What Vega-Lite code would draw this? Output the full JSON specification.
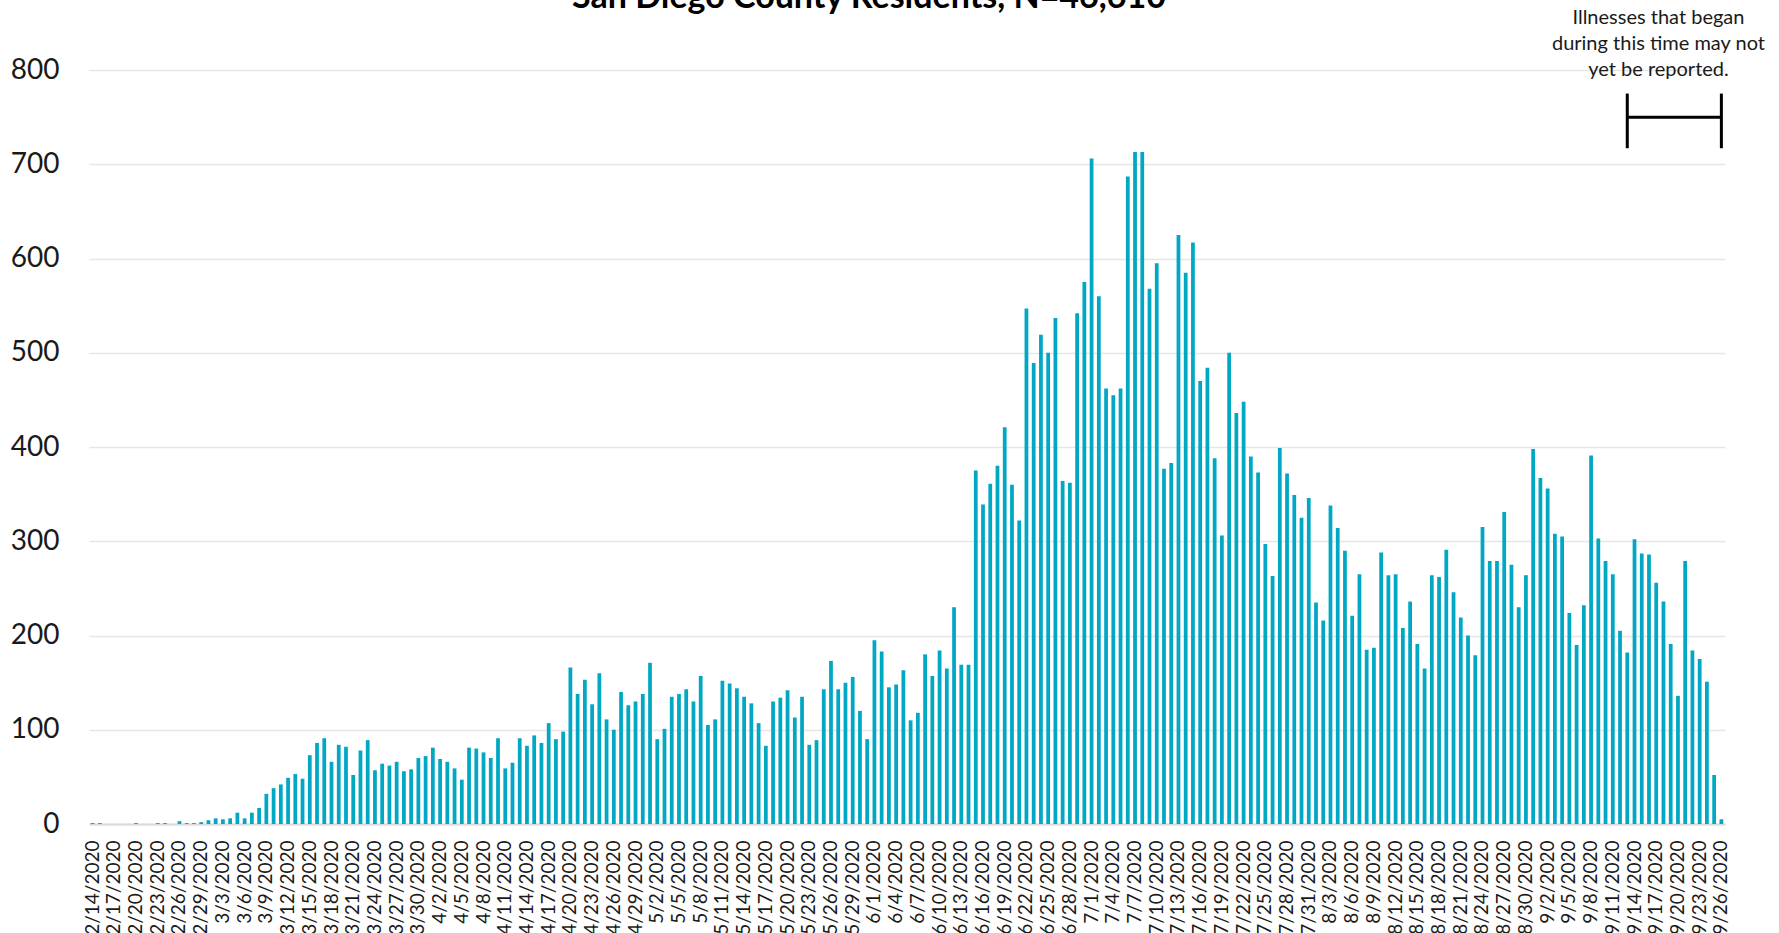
{
  "$schema": "https://vega.github.io/schema/vega-lite/v6.json",
  "width": 1636,
  "height": 754,
  "autosize": {"type": "none"},
  "padding": {"left": 89, "top": 70, "right": 54, "bottom": 109},
  "background": "white",
  "title": {
    "text": "San Diego County Residents, N=46,610",
    "font": "Lato",
    "fontSize": 34,
    "fontWeight": "bold",
    "color": "#000000",
    "anchor": "middle",
    "frame": "group",
    "dx": -38,
    "offset": -34,
    "baseline": "alphabetic"
  },
  "config": {"view": {"stroke": null}, "font": "Lato"},
  "datasets": {
    "cases": [
      {"d": "2/14/2020", "v": 1}, {"d": "2/15/2020", "v": 1}, {"d": "2/16/2020", "v": 0}, {"d": "2/17/2020", "v": 0},
      {"d": "2/18/2020", "v": 0}, {"d": "2/19/2020", "v": 0}, {"d": "2/20/2020", "v": 1}, {"d": "2/21/2020", "v": 0},
      {"d": "2/22/2020", "v": 0}, {"d": "2/23/2020", "v": 1}, {"d": "2/24/2020", "v": 1}, {"d": "2/25/2020", "v": 0},
      {"d": "2/26/2020", "v": 3}, {"d": "2/27/2020", "v": 1}, {"d": "2/28/2020", "v": 1}, {"d": "2/29/2020", "v": 2},
      {"d": "3/1/2020", "v": 4}, {"d": "3/2/2020", "v": 6}, {"d": "3/3/2020", "v": 5}, {"d": "3/4/2020", "v": 6},
      {"d": "3/5/2020", "v": 12}, {"d": "3/6/2020", "v": 6}, {"d": "3/7/2020", "v": 12}, {"d": "3/8/2020", "v": 17},
      {"d": "3/9/2020", "v": 32}, {"d": "3/10/2020", "v": 38}, {"d": "3/11/2020", "v": 42}, {"d": "3/12/2020", "v": 49},
      {"d": "3/13/2020", "v": 53}, {"d": "3/14/2020", "v": 48}, {"d": "3/15/2020", "v": 73}, {"d": "3/16/2020", "v": 86},
      {"d": "3/17/2020", "v": 91}, {"d": "3/18/2020", "v": 66}, {"d": "3/19/2020", "v": 84}, {"d": "3/20/2020", "v": 82},
      {"d": "3/21/2020", "v": 52}, {"d": "3/22/2020", "v": 78}, {"d": "3/23/2020", "v": 89}, {"d": "3/24/2020", "v": 57},
      {"d": "3/25/2020", "v": 64}, {"d": "3/26/2020", "v": 62}, {"d": "3/27/2020", "v": 66}, {"d": "3/28/2020", "v": 56},
      {"d": "3/29/2020", "v": 58}, {"d": "3/30/2020", "v": 70}, {"d": "3/31/2020", "v": 72},
      {"d": "4/1/2020", "v": 81}, {"d": "4/2/2020", "v": 69}, {"d": "4/3/2020", "v": 66}, {"d": "4/4/2020", "v": 59},
      {"d": "4/5/2020", "v": 47}, {"d": "4/6/2020", "v": 81}, {"d": "4/7/2020", "v": 80}, {"d": "4/8/2020", "v": 76},
      {"d": "4/9/2020", "v": 70}, {"d": "4/10/2020", "v": 91}, {"d": "4/11/2020", "v": 59}, {"d": "4/12/2020", "v": 65},
      {"d": "4/13/2020", "v": 91}, {"d": "4/14/2020", "v": 83}, {"d": "4/15/2020", "v": 94}, {"d": "4/16/2020", "v": 86},
      {"d": "4/17/2020", "v": 107}, {"d": "4/18/2020", "v": 90}, {"d": "4/19/2020", "v": 98}, {"d": "4/20/2020", "v": 166},
      {"d": "4/21/2020", "v": 138}, {"d": "4/22/2020", "v": 153}, {"d": "4/23/2020", "v": 127}, {"d": "4/24/2020", "v": 160},
      {"d": "4/25/2020", "v": 111}, {"d": "4/26/2020", "v": 100}, {"d": "4/27/2020", "v": 140}, {"d": "4/28/2020", "v": 126},
      {"d": "4/29/2020", "v": 130}, {"d": "4/30/2020", "v": 138},
      {"d": "5/1/2020", "v": 171}, {"d": "5/2/2020", "v": 90}, {"d": "5/3/2020", "v": 101}, {"d": "5/4/2020", "v": 135},
      {"d": "5/5/2020", "v": 138}, {"d": "5/6/2020", "v": 143}, {"d": "5/7/2020", "v": 130}, {"d": "5/8/2020", "v": 157},
      {"d": "5/9/2020", "v": 105}, {"d": "5/10/2020", "v": 111}, {"d": "5/11/2020", "v": 152}, {"d": "5/12/2020", "v": 149},
      {"d": "5/13/2020", "v": 144}, {"d": "5/14/2020", "v": 135}, {"d": "5/15/2020", "v": 128}, {"d": "5/16/2020", "v": 107},
      {"d": "5/17/2020", "v": 83}, {"d": "5/18/2020", "v": 130}, {"d": "5/19/2020", "v": 134}, {"d": "5/20/2020", "v": 142},
      {"d": "5/21/2020", "v": 113}, {"d": "5/22/2020", "v": 135}, {"d": "5/23/2020", "v": 84}, {"d": "5/24/2020", "v": 89},
      {"d": "5/25/2020", "v": 143}, {"d": "5/26/2020", "v": 173}, {"d": "5/27/2020", "v": 143}, {"d": "5/28/2020", "v": 150},
      {"d": "5/29/2020", "v": 156}, {"d": "5/30/2020", "v": 120}, {"d": "5/31/2020", "v": 90},
      {"d": "6/1/2020", "v": 195}, {"d": "6/2/2020", "v": 183}, {"d": "6/3/2020", "v": 145}, {"d": "6/4/2020", "v": 148},
      {"d": "6/5/2020", "v": 163}, {"d": "6/6/2020", "v": 110}, {"d": "6/7/2020", "v": 118}, {"d": "6/8/2020", "v": 180},
      {"d": "6/9/2020", "v": 157}, {"d": "6/10/2020", "v": 184}, {"d": "6/11/2020", "v": 165}, {"d": "6/12/2020", "v": 230},
      {"d": "6/13/2020", "v": 169}, {"d": "6/14/2020", "v": 169}, {"d": "6/15/2020", "v": 375}, {"d": "6/16/2020", "v": 339},
      {"d": "6/17/2020", "v": 361}, {"d": "6/18/2020", "v": 380}, {"d": "6/19/2020", "v": 421}, {"d": "6/20/2020", "v": 360},
      {"d": "6/21/2020", "v": 322}, {"d": "6/22/2020", "v": 547}, {"d": "6/23/2020", "v": 489}, {"d": "6/24/2020", "v": 519},
      {"d": "6/25/2020", "v": 500}, {"d": "6/26/2020", "v": 537}, {"d": "6/27/2020", "v": 364}, {"d": "6/28/2020", "v": 362},
      {"d": "6/29/2020", "v": 542}, {"d": "6/30/2020", "v": 575},
      {"d": "7/1/2020", "v": 706}, {"d": "7/2/2020", "v": 560}, {"d": "7/3/2020", "v": 462}, {"d": "7/4/2020", "v": 455},
      {"d": "7/5/2020", "v": 462}, {"d": "7/6/2020", "v": 687}, {"d": "7/7/2020", "v": 713}, {"d": "7/8/2020", "v": 713},
      {"d": "7/9/2020", "v": 568}, {"d": "7/10/2020", "v": 595}, {"d": "7/11/2020", "v": 377}, {"d": "7/12/2020", "v": 383},
      {"d": "7/13/2020", "v": 625}, {"d": "7/14/2020", "v": 585}, {"d": "7/15/2020", "v": 617}, {"d": "7/16/2020", "v": 470},
      {"d": "7/17/2020", "v": 484}, {"d": "7/18/2020", "v": 388}, {"d": "7/19/2020", "v": 306}, {"d": "7/20/2020", "v": 500},
      {"d": "7/21/2020", "v": 436}, {"d": "7/22/2020", "v": 448}, {"d": "7/23/2020", "v": 390}, {"d": "7/24/2020", "v": 373},
      {"d": "7/25/2020", "v": 297}, {"d": "7/26/2020", "v": 263}, {"d": "7/27/2020", "v": 399}, {"d": "7/28/2020", "v": 372},
      {"d": "7/29/2020", "v": 349}, {"d": "7/30/2020", "v": 325}, {"d": "7/31/2020", "v": 346},
      {"d": "8/1/2020", "v": 235}, {"d": "8/2/2020", "v": 216}, {"d": "8/3/2020", "v": 338}, {"d": "8/4/2020", "v": 314},
      {"d": "8/5/2020", "v": 290}, {"d": "8/6/2020", "v": 221}, {"d": "8/7/2020", "v": 265}, {"d": "8/8/2020", "v": 185},
      {"d": "8/9/2020", "v": 187}, {"d": "8/10/2020", "v": 288}, {"d": "8/11/2020", "v": 264}, {"d": "8/12/2020", "v": 265},
      {"d": "8/13/2020", "v": 208}, {"d": "8/14/2020", "v": 236}, {"d": "8/15/2020", "v": 191}, {"d": "8/16/2020", "v": 165},
      {"d": "8/17/2020", "v": 264}, {"d": "8/18/2020", "v": 262}, {"d": "8/19/2020", "v": 291}, {"d": "8/20/2020", "v": 246},
      {"d": "8/21/2020", "v": 219}, {"d": "8/22/2020", "v": 200}, {"d": "8/23/2020", "v": 179}, {"d": "8/24/2020", "v": 315},
      {"d": "8/25/2020", "v": 279}, {"d": "8/26/2020", "v": 279}, {"d": "8/27/2020", "v": 331}, {"d": "8/28/2020", "v": 275},
      {"d": "8/29/2020", "v": 230}, {"d": "8/30/2020", "v": 264}, {"d": "8/31/2020", "v": 398},
      {"d": "9/1/2020", "v": 367}, {"d": "9/2/2020", "v": 356}, {"d": "9/3/2020", "v": 308}, {"d": "9/4/2020", "v": 305},
      {"d": "9/5/2020", "v": 224}, {"d": "9/6/2020", "v": 190}, {"d": "9/7/2020", "v": 232}, {"d": "9/8/2020", "v": 391},
      {"d": "9/9/2020", "v": 303}, {"d": "9/10/2020", "v": 279}, {"d": "9/11/2020", "v": 265}, {"d": "9/12/2020", "v": 205},
      {"d": "9/13/2020", "v": 182}, {"d": "9/14/2020", "v": 302}, {"d": "9/15/2020", "v": 287}, {"d": "9/16/2020", "v": 286},
      {"d": "9/17/2020", "v": 256}, {"d": "9/18/2020", "v": 236}, {"d": "9/19/2020", "v": 191}, {"d": "9/20/2020", "v": 136},
      {"d": "9/21/2020", "v": 279}, {"d": "9/22/2020", "v": 184}, {"d": "9/23/2020", "v": 175}, {"d": "9/24/2020", "v": 151},
      {"d": "9/25/2020", "v": 52}, {"d": "9/26/2020", "v": 5}
    ],
    "bracket": [
      {"d": "9/13/2020", "lo": 717, "hi": 775},
      {"d": "9/26/2020", "lo": 717, "hi": 775}
    ],
    "span": [
      {"start": "9/13/2020", "end": "9/26/2020", "y": 750}
    ],
    "note": [
      {"d": "9/18/2020", "y": 855, "label": ["Illnesses that began", "during this time may not", "yet be reported."]}
    ]
  },
  "layer": [
    {
      "data": {"name": "cases"},
      "mark": {"type": "bar", "color": "#00A8C4"},
      "encoding": {
        "x": {
          "field": "d",
          "type": "ordinal",
          "sort": null,
          "scale": {"paddingInner": 0.48, "paddingOuter": 0.24},
          "axis": {
            "title": null,
            "values": ["2/14/2020", "2/17/2020", "2/20/2020", "2/23/2020", "2/26/2020", "2/29/2020", "3/3/2020", "3/6/2020", "3/9/2020", "3/12/2020", "3/15/2020", "3/18/2020", "3/21/2020", "3/24/2020", "3/27/2020", "3/30/2020", "4/2/2020", "4/5/2020", "4/8/2020", "4/11/2020", "4/14/2020", "4/17/2020", "4/20/2020", "4/23/2020", "4/26/2020", "4/29/2020", "5/2/2020", "5/5/2020", "5/8/2020", "5/11/2020", "5/14/2020", "5/17/2020", "5/20/2020", "5/23/2020", "5/26/2020", "5/29/2020", "6/1/2020", "6/4/2020", "6/7/2020", "6/10/2020", "6/13/2020", "6/16/2020", "6/19/2020", "6/22/2020", "6/25/2020", "6/28/2020", "7/1/2020", "7/4/2020", "7/7/2020", "7/10/2020", "7/13/2020", "7/16/2020", "7/19/2020", "7/22/2020", "7/25/2020", "7/28/2020", "7/31/2020", "8/3/2020", "8/6/2020", "8/9/2020", "8/12/2020", "8/15/2020", "8/18/2020", "8/21/2020", "8/24/2020", "8/27/2020", "8/30/2020", "9/2/2020", "9/5/2020", "9/8/2020", "9/11/2020", "9/14/2020", "9/17/2020", "9/20/2020", "9/23/2020", "9/26/2020"],
            "labelAngle": -90,
            "labelFont": "Lato",
            "labelFontSize": 19,
            "labelColor": "#1a1a1a",
            "labelPadding": 16,
            "labelOverlap": false,
            "labelBound": false,
            "labelFlush": false,
            "ticks": false,
            "domain": true,
            "domainColor": "#D9D9D9",
            "domainWidth": 2,
            "grid": false
          }
        },
        "y": {
          "field": "v",
          "type": "quantitative",
          "scale": {"domain": [0, 800], "nice": false},
          "axis": {
            "title": null,
            "values": [0, 100, 200, 300, 400, 500, 600, 700, 800],
            "labelFont": "Lato",
            "labelFontSize": 28,
            "labelColor": "#1a1a1a",
            "labelPadding": 30,
            "ticks": false,
            "domain": false,
            "grid": true,
            "gridColor": "#E6E6E6",
            "gridWidth": 1.5
          }
        }
      }
    },
    {
      "data": {"name": "bracket"},
      "mark": {"type": "rule", "color": "#000000", "strokeWidth": 3},
      "encoding": {
        "x": {"field": "d", "type": "ordinal", "sort": null},
        "y": {"field": "lo", "type": "quantitative"},
        "y2": {"field": "hi"}
      }
    },
    {
      "data": {"name": "span"},
      "mark": {"type": "rule", "color": "#000000", "strokeWidth": 3},
      "encoding": {
        "x": {"field": "start", "type": "ordinal", "sort": null},
        "x2": {"field": "end"},
        "y": {"field": "y", "type": "quantitative"}
      }
    },
    {
      "data": {"name": "note"},
      "mark": {"type": "text", "font": "Lato", "fontSize": 20, "lineHeight": 26, "align": "center", "baseline": "middle", "dx": -5, "color": "#1a1a1a"},
      "encoding": {
        "x": {"field": "d", "type": "ordinal", "sort": null},
        "y": {"field": "y", "type": "quantitative"},
        "text": {"field": "label"}
      }
    }
  ]
}
